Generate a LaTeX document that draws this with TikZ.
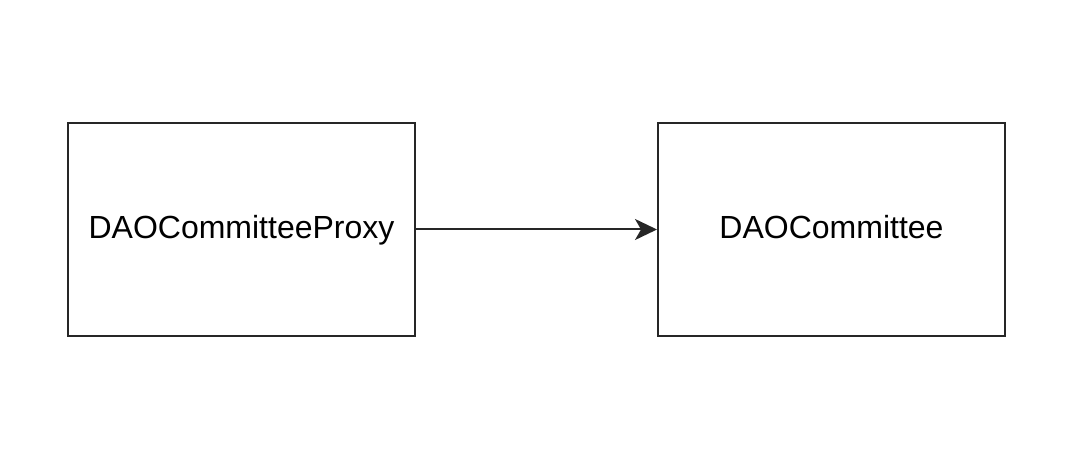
\documentclass[tikz,border=0pt]{standalone}
\usepackage{fontspec}
\setmainfont{Liberation Sans}
\usetikzlibrary{arrows.meta}
\begin{document}
\begin{tikzpicture}[
        x=1pt, y=1pt,
        classbox/.style={rectangle, draw=black!85, line width=2pt, minimum width=347pt, minimum height=213pt, inner sep=0pt, text height=25pt, text depth=6pt, font=\fontsize{32}{38}\selectfont},
    ]
        \useasboundingbox (0,0) rectangle (1092,458);

        %Nodes
        \node[classbox] (proxy) at (241.5,228.5) {DAOCommitteeProxy};
        \node[classbox] (committee) at (831.5,228.5) {DAOCommittee};

        %Lines
        \draw[-{Stealth[length=22pt, width=21pt, inset=6pt]}, line width=2pt, black!85] (proxy) -- (committee);
    \end{tikzpicture}
\end{document}
